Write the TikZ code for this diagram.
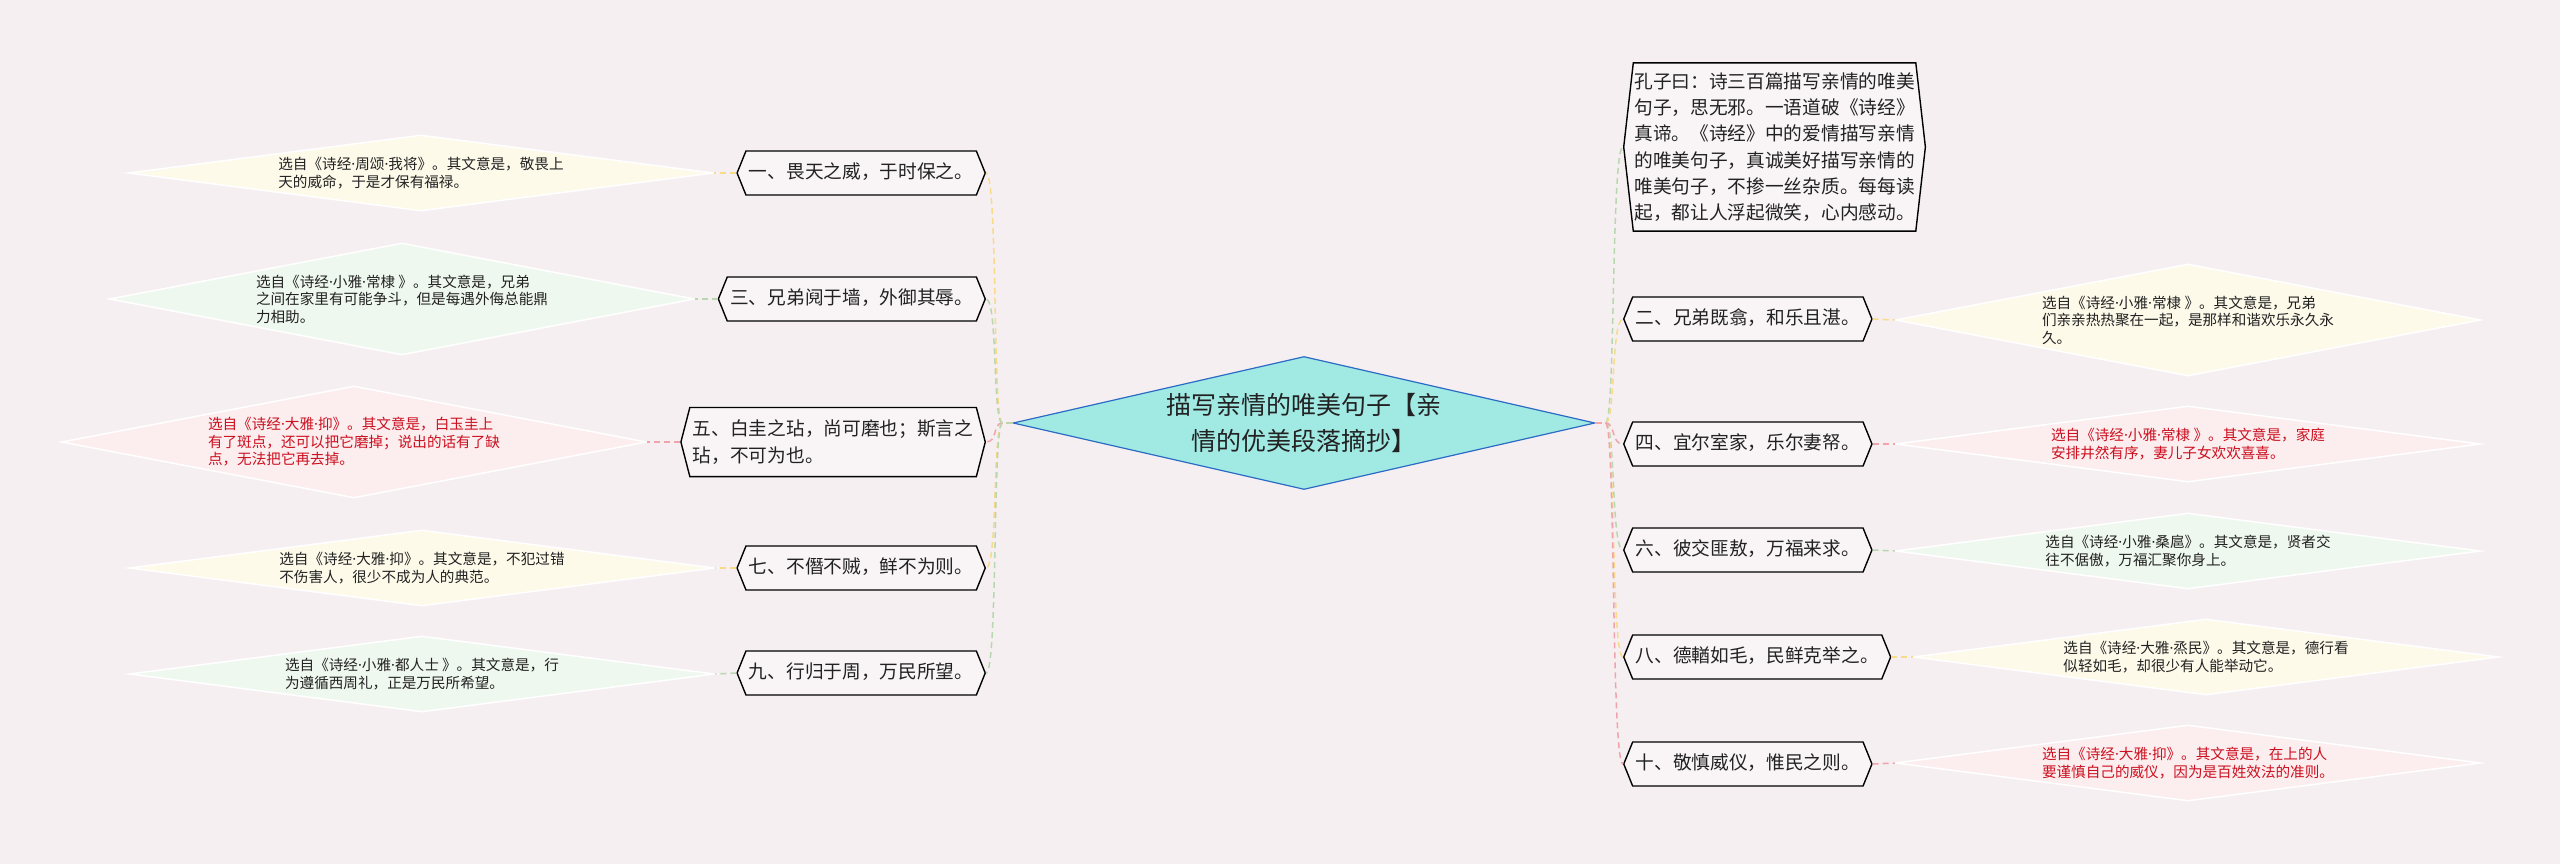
\documentclass[tikz,border=0pt]{standalone}
\usepackage{fontspec}
\setmainfont{Noto Sans CJK SC}
\newfontfamily\latinf{Noto Sans}
\newcommand\mdot{{\latinf ·}}
\usetikzlibrary{shapes.geometric,shapes.symbols}
\definecolor{bgc}{HTML}{F6EFF1}
\definecolor{rootfill}{HTML}{A1E9E3}
\definecolor{rootdraw}{HTML}{2B6BC5}
\definecolor{yfill}{HTML}{FDFAEA}
\definecolor{gfill}{HTML}{EFF8EE}
\definecolor{pfill}{HTML}{FCEDEE}
\definecolor{redtext}{HTML}{CC1020}
\definecolor{yline}{HTML}{F7DA8A}
\definecolor{gline}{HTML}{B7D8AE}
\definecolor{pline}{HTML}{F1A3AD}
\definecolor{hexfill}{HTML}{F9F5F6}
\definecolor{ink}{HTML}{222222}
\tikzset{
  rootbox/.style={diamond, fill=rootfill, draw=rootdraw, line width=1.2pt, inner sep=0pt, minimum width=582pt, minimum height=133pt},
  roottext/.style={align=center, font=\fontsize{25pt}{36pt}\selectfont, text=ink, inner sep=0pt},
  ibox/.style={diamond, draw=white, line width=1.5pt, inner sep=0pt, minimum width=585pt, minimum height=76pt},
  itext/.style={align=left, font=\fontsize{14.6pt}{17.5pt}\selectfont, text=ink, inner sep=0pt},
  rtext/.style={itext, text=redtext},
  hexbase/.style={signal, signal to=west and east, draw=black, line width=1.4pt, fill=hexfill, text=ink, font=\fontsize{18.7pt}{26.3pt}\selectfont, inner xsep=3pt},
  hexbox/.style={hexbase, signal pointer angle=136, text height=15pt, text depth=4pt, inner ysep=12.5pt},
  link/.style={line width=1.5pt, dash pattern=on 6pt off 4pt},
}
\begin{document}
\begin{tikzpicture}[x=1pt,y=-1pt]
\useasboundingbox (0,0) rectangle (2560,864);
\fill[bgc] (0,0) rectangle (2560,864);

% root
\node[rootbox] (root) at (1304,423) {};
\node[roottext] (roott) at (1304,423) {描写亲情的唯美句子【亲\\情的优美段落摘抄】};

% left topic nodes
\node[hexbox, anchor=east] (h1) at (986,173) {一、畏天之威，于时保之。};
\node[hexbox, anchor=east] (h3) at (986,299) {三、兄弟阋于墙，外御其辱。};
\node[hexbase, anchor=east, align=left, signal pointer angle=151, inner ysep=12.5pt] (h5) at (986,442) {五、白圭之玷，尚可磨也；斯言之\\玷，不可为也。};
\node[hexbox, anchor=east] (h7) at (986,568) {七、不僭不贼，鲜不为则。};
\node[hexbox, anchor=east] (h9) at (986,673) {九、行归于周，万民所望。};

% right topic nodes
\node[hexbase, anchor=west, align=left, signal pointer angle=167, inner ysep=9.5pt, inner xsep=1pt] (hk) at (1623,147) {孔子曰：诗三百篇描写亲情的唯美\\句子，思无邪。一语道破《诗经》\\真谛。《诗经》中的爱情描写亲情\\的唯美句子，真诚美好描写亲情的\\唯美句子，不掺一丝杂质。每每读\\起，都让人浮起微笑，心内感动。};
\node[hexbox, anchor=west] (h2) at (1623,319) {二、兄弟既翕，和乐且湛。};
\node[hexbox, anchor=west] (h4) at (1623,444) {四、宜尔室家，乐尔妻帑。};
\node[hexbox, anchor=west] (h6) at (1623,550) {六、彼交匪敖，万福来求。};
\node[hexbox, anchor=west] (h8) at (1623,657) {八、德輶如毛，民鲜克举之。};
\node[hexbox, anchor=west] (h10) at (1623,764) {十、敬慎威仪，惟民之则。};

% left explanation diamonds
\node[ibox, fill=yfill] (d1) at (421,173) {};
\node[itext] (d1t) at (d1.center) {选自《诗经\mdot 周颂\mdot 我将》。其文意是，敬畏上\\天的威命，于是才保有福禄。};
\node[ibox, fill=gfill, minimum height=112pt] (d3) at (402,299) {};
\node[itext] (d3t) at (d3.center) {选自《诗经\mdot 小雅\mdot 常棣 》。其文意是，兄弟\\之间在家里有可能争斗，但是每遇外侮总能鼎\\力相助。};
\node[ibox, fill=pfill, minimum height=112pt] (d5) at (354,442) {};
\node[rtext] (d5t) at (d5.center) {选自《诗经\mdot 大雅\mdot 抑》。其文意是，白玉圭上\\有了斑点，还可以把它磨掉；说出的话有了缺\\点，无法把它再去掉。};
\node[ibox, fill=yfill] (d7) at (422,568) {};
\node[itext] (d7t) at (d7.center) {选自《诗经\mdot 大雅\mdot 抑》。其文意是，不犯过错\\不伤害人，很少不成为人的典范。};
\node[ibox, fill=gfill] (d9) at (422,674) {};
\node[itext] (d9t) at (d9.center) {选自《诗经\mdot 小雅\mdot 都人士 》。其文意是，行\\为遵循西周礼，正是万民所希望。};

% right explanation diamonds
\node[ibox, fill=yfill, minimum height=112pt] (d2) at (2188,320) {};
\node[itext] (d2t) at (d2.center) {选自《诗经\mdot 小雅\mdot 常棣 》。其文意是，兄弟\\们亲亲热热聚在一起，是那样和谐欢乐永久永\\久。};
\node[ibox, fill=pfill] (d4) at (2188,444) {};
\node[rtext] (d4t) at (d4.center) {选自《诗经\mdot 小雅\mdot 常棣 》。其文意是，家庭\\安排井然有序，妻儿子女欢欢喜喜。};
\node[ibox, fill=gfill] (d6) at (2188,551) {};
\node[itext] (d6t) at (d6.center) {选自《诗经\mdot 小雅\mdot 桑扈》。其文意是，贤者交\\往不倨傲，万福汇聚你身上。};
\node[ibox, fill=yfill] (d8) at (2206,657) {};
\node[itext] (d8t) at (d8.center) {选自《诗经\mdot 大雅\mdot 烝民》。其文意是，德行看\\似轻如毛，却很少有人能举动它。};
\node[ibox, fill=pfill] (d10) at (2188,763) {};
\node[rtext] (d10t) at (d10.center) {选自《诗经\mdot 大雅\mdot 抑》。其文意是，在上的人\\要谨慎自己的威仪，因为是百姓效法的准则。};

% root to left topics
\draw[link, yline] (root.west) -- ++(-10,0) .. controls +(-10,0) and +(12,0) .. (h1.east);
\draw[link, yline] (root.west) -- ++(-10,0) .. controls +(-10,0) and +(12,0) .. (h7.east);
\draw[link, pline] (root.west) -- ++(-10,0) .. controls +(-10,0) and +(12,0) .. (h5.east);
\draw[link, gline] (root.west) -- ++(-10,0) .. controls +(-10,0) and +(12,0) .. (h3.east);
\draw[link, gline] (root.west) -- ++(-10,0) .. controls +(-10,0) and +(12,0) .. (h9.east);

% root to right topics
\draw[link, gline] (root.east) -- ++(10,0) .. controls +(10,0) and +(-12,0) .. (hk.west);
\draw[link, yline] (root.east) -- ++(10,0) .. controls +(10,0) and +(-12,0) .. (h2.west);
\draw[link, gline] (root.east) -- ++(10,0) .. controls +(10,0) and +(-12,0) .. (h6.west);
\draw[link, yline] (root.east) -- ++(10,0) .. controls +(10,0) and +(-12,0) .. (h8.west);
\draw[link, pline] (root.east) -- ++(10,0) .. controls +(10,0) and +(-12,0) .. (h10.west);
\draw[link, pline] (root.east) -- ++(10,0) .. controls +(10,0) and +(-12,0) .. (h4.west);

% topics to explanations
\draw[link, yline] (h1.west) -- (d1.east);
\draw[link, gline] (h3.west) -- (d3.east);
\draw[link, pline] (h5.west) -- (d5.east);
\draw[link, yline] (h7.west) -- (d7.east);
\draw[link, gline] (h9.west) -- (d9.east);
\draw[link, yline] (h2.east) -- (d2.west);
\draw[link, pline] (h4.east) -- (d4.west);
\draw[link, gline] (h6.east) -- (d6.west);
\draw[link, yline] (h8.east) -- (d8.west);
\draw[link, pline] (h10.east) -- (d10.west);
\end{tikzpicture}
\end{document}
